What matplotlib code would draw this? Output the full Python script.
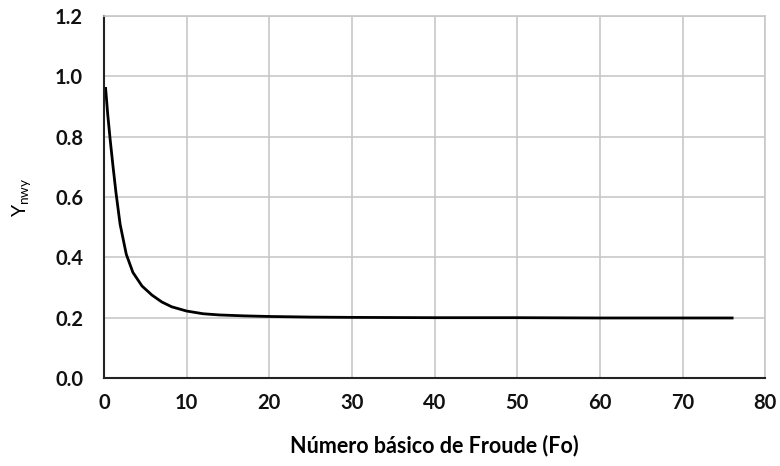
import matplotlib
matplotlib.use("Agg")
import matplotlib.pyplot as plt

froude = [0.2, 0.45, 0.75, 1.1, 1.45, 1.95, 2.7, 3.5, 4.6, 5.8, 7.0, 8.2, 10, 12, 14,
          17, 20, 25, 30, 40, 50, 60, 70, 76]
gamma = [0.96, 0.875, 0.79, 0.70, 0.615, 0.51, 0.41, 0.35, 0.305, 0.275, 0.252, 0.236,
         0.222, 0.213, 0.209, 0.206, 0.204, 0.202, 0.201, 0.200, 0.200, 0.199, 0.199, 0.199]

xticks = [0, 10, 20, 30, 40, 50, 60, 70, 80]
yticks = [0.0, 0.2, 0.4, 0.6, 0.8, 1.0, 1.2]

plt.rcParams['font.family'] = ['Lato', 'DejaVu Sans']

fig = plt.figure(figsize=(7.8, 4.66), dpi=100)
ax = fig.add_axes([0.1333, 0.1888, 0.8477, 0.7769])

ax.plot(froude, gamma, color='black', lw=2.0, solid_joinstyle='round')

ax.set_xlim(0, 80)
ax.set_ylim(0, 1.2)
ax.set_xticks(xticks)
ax.set_yticks(yticks)
ax.set_yticklabels([f'{v:.1f}' for v in yticks])
ax.tick_params(length=0, labelsize=14.5)
ax.tick_params(axis='y', pad=15)
ax.tick_params(axis='x', pad=11)
for lab in ax.get_xticklabels() + ax.get_yticklabels():
    lab.set_fontweight('bold')
    lab.set_color('#111111')

ax.grid(True, color='#c8c8c8', lw=1.2)
ax.set_axisbelow(True)
for side in ['top', 'right']:
    ax.spines[side].set_color('#c8c8c8')
    ax.spines[side].set_linewidth(1.2)
for side in ['left', 'bottom']:
    ax.spines[side].set_color('#222222')
    ax.spines[side].set_linewidth(1.5)

ax.set_xlabel('Número básico de Froude (Fo)', fontsize=15.5, fontweight='bold')
ax.xaxis.set_label_coords(0.5, -0.157)
ax.set_ylabel(r'$\mathregular{Y_{nwy}}$', fontsize=14)
ax.yaxis.set_label_coords(-0.107, 0.5)

fig.savefig('out.png', dpi=100)
